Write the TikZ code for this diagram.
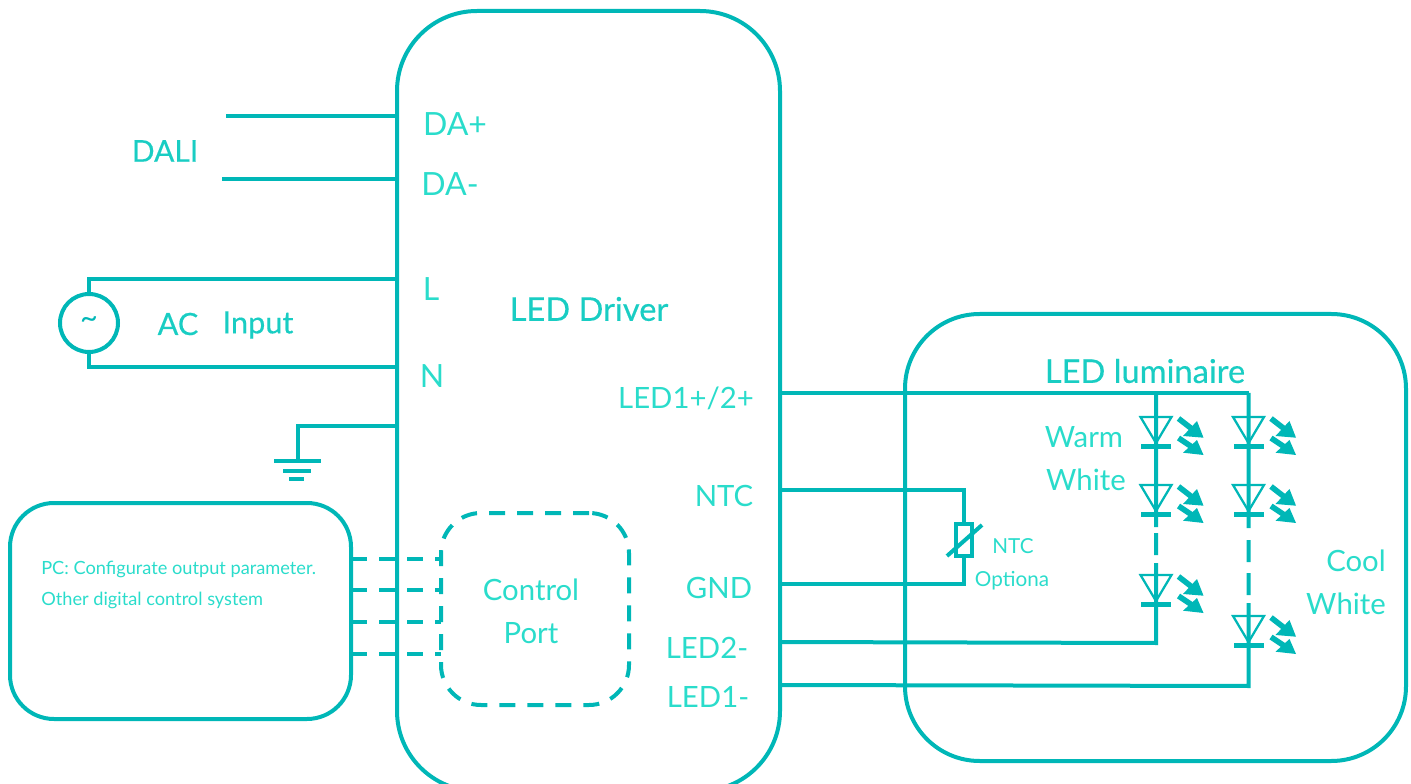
\documentclass[tikz,border=0pt]{standalone}
\usepackage{fontspec}
\setmainfont{Lato}
\newfontfamily\boldish[FakeBold=0.35]{Lato}
\definecolor{wire}{HTML}{00B7B7}
\definecolor{txt}{HTML}{2ADCCB}
\newcommand{\fs}[1]{\fontsize{#1}{#1}\selectfont}
\tikzset{
  x=0.75pt,y=-0.75pt,
  wireline/.style={draw=wire,line width=3pt,line join=miter},
  thinwire/.style={draw=wire,line width=2.4pt},
  roundbox/.style={draw=wire,line width=3pt,fill=none,inner sep=0pt,rectangle},
  lbl/.style={text=txt,inner sep=0pt,font=\fs{24}},
  midlbl/.style={text=txt,inner sep=0pt,font=\fs{22}},
  title/.style={text=txt!60!wire,inner sep=0pt,font=\boldish\fs{24.5}},
  small/.style={text=txt,inner sep=0pt,font=\fs{13.65}},
  dashwire/.style={draw=wire,line width=3pt,dash pattern=on 12pt off 9pt},
  led/.pic={
    \draw[draw=wire,line width=1.7pt,line join=miter] (-15.5,-29) -- (15.5,-29) -- (0,-3) -- cycle;
    \fill[wire] (-15,-2.5) rectangle (15,3);
    \draw[wire,line width=4.2pt] (22.5,-27.5) -- (36,-17);
    \fill[wire] (47.5,-8.3) -- (27,-10) -- (41,-25) -- cycle;
    \draw[wire,line width=4.2pt] (22.5,-8) -- (36,1);
    \fill[wire] (47.5,9) -- (27,6.7) -- (41,-6) -- cycle;
  }
}
\begin{document}
\begin{tikzpicture}
\useasboundingbox (0,0) rectangle (1411,784);
% boxes
\node[roundbox,rounded corners=60pt,minimum width=287.25pt,minimum height=585pt] (driver) at (588.5,401) {};
\node[roundbox,rounded corners=56pt,minimum width=375.75pt,minimum height=335.25pt] (lum) at (1155.5,537.5) {};
\node[roundbox,rounded corners=33pt,minimum width=255.75pt,minimum height=162pt] (pc) at (180.5,611) {};
\node[roundbox,dashwire,rounded corners=30pt,minimum width=141pt,minimum height=144pt] (port) at (535,609) {};
% anchors on the driver
\coordinate (dap) at (397,116); \coordinate (dalia) at (226,116);
\coordinate (dam) at (397,179); \coordinate (dalib) at (222,179);
\coordinate (lin) at (397,279); \coordinate (nin) at (397,367);
\coordinate (gin) at (397,426); \coordinate (gnd) at (298,461);
\coordinate (led12) at (780,393); \coordinate (ntcout) at (780,490);
\coordinate (gndout) at (780,584); \coordinate (led2m) at (780,642);
\coordinate (led1m) at (780,685);
% DALI
\draw[wireline] (dalia) -- (dap);
\draw[wireline] (dalib) -- (dam);
% AC
\node[draw=wire,line width=3pt,circle,minimum size=43.5pt,inner sep=0pt,text=wire,font=\fs{23}] (ac) at (89,323) {\raisebox{0pt}{\char"007E}};
\draw[wireline] (ac.north) -- (89,279) -- (lin);
\draw[wireline] (ac.south) -- (89,367) -- (nin);
% ground
\draw[thinwire] (gin) -- (298,426) -- (gnd);
\node[fill=wire,inner sep=0pt,minimum width=35.25pt,minimum height=3pt] (g1) at (297.5,461) {};
\node[fill=wire,inner sep=0pt,minimum width=21pt,minimum height=3pt] (g2) at (297,471) {};
\node[fill=wire,inner sep=0pt,minimum width=11.25pt,minimum height=3pt] (g3) at (296.5,479) {};
% control lines
\foreach \y/\n in {559/a,590/b,622/c,654/d}{
  \coordinate (pc\n) at (351,\y); \coordinate (port\n) at (441,\y);
  \draw[dashwire] (pc\n) -- (port\n);
}
% LED wiring
\coordinate (c1top) at (1156,393); \coordinate (c2top) at (1248.5,393);
\coordinate (c1bot) at (1156,643); \coordinate (c2bot) at (1248.5,686);
\draw[wireline] (led12) -- (c2top);
\draw[wireline] (c1top) -- (1156,527) (1156,533) -- (1156,555) (1156,563) -- (c1bot) -- (led2m);
\draw[wireline] (c2top) -- (1248.5,528) (1248.5,540) -- (1248.5,562) (1248.5,573) -- (1248.5,595) (1248.5,603) -- (c2bot) -- (led1m);
\foreach \p/\n in {1156/446,1156/514,1156/604,1248.5/446,1248.5/514,1248.5/645}
  \pic at (\p,\n) {led};
% NTC
\coordinate (nt) at (964,490); \coordinate (nb) at (964,584);
\node[draw=wire,line width=2.6pt,fill=white,minimum width=12pt,minimum height=24pt,inner sep=0pt] (res) at (964,540) {};
\draw[wireline] (ntcout) -- (nt) -- (res.north);
\draw[wireline] (gndout) -- (nb) -- (res.south);
\coordinate (sa) at (947,556); \coordinate (sb) at (982,525);
\draw[wireline] (sa) -- (sb);
% labels
\node[lbl] (tda) at (455,124) {DA+};
\node[lbl] (tdb) at (450,184) {DA-};
\node[lbl] (tl) at (431,289) {L};
\node[lbl] (tn) at (432,376) {N};
\node[title] (tdr) at (589,309) {LED Driver};
\node[title,font=\boldish\fs{22.5}] (tdali) at (165,151) {DALI};
\node[title,font=\boldish\fs{23}] (tac) at (178,324) {AC};
\node[title,font=\boldish\fs{23}] (tin) at (258,325) {Input};
\node[title] (tlum) at (1145,371) {LED luminaire};
\node[midlbl] (t1) at (686,398.5) {LED1+/2+};
\node[midlbl] (t2) at (724,496) {NTC};
\node[midlbl] (t3) at (719,587.5) {GND};
\node[midlbl] (t4) at (707,648) {LED2-};
\node[midlbl] (t5) at (708,697) {LED1-};
\node[midlbl] (t6) at (531,590) {Control};
\node[midlbl] (t7) at (531,633) {Port};
\node[midlbl] (t8) at (1084,437) {Warm};
\node[midlbl] (t9) at (1086,480) {White};
\node[midlbl] (t10) at (1356,561) {Cool};
\node[midlbl] (t11) at (1346,604) {White};
\node[small,font=\fs{15.5}] (t12) at (1013,546) {NTC};
\node[small,font=\fs{15.5}] (t13) at (1012,581) {Optiona};
\node[small,anchor=west] (t14) at (41,569.5) {PC: Configurate output parameter.};
\node[small,anchor=west] (t15) at (41,600) {Other digital control system};
\end{tikzpicture}
\end{document}
